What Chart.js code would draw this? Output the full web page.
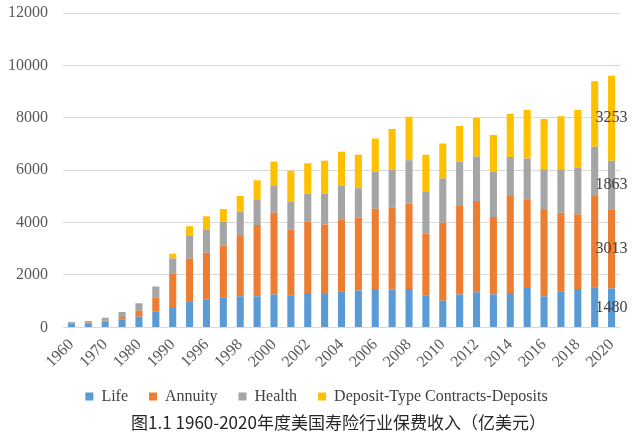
<!DOCTYPE html>
<html>
<head>
<meta charset="utf-8">
<script src="https://cdn.jsdelivr.net/npm/chart.js@4/dist/chart.umd.min.js"></script>
<style>
  html, body { margin: 0; padding: 0; background: #ffffff; }
  #wrap { width: 640px; height: 446px; position: relative; }
</style>
</head>
<body>
<div id="wrap"><canvas id="c" width="640" height="446"></canvas></div>
<script>
const years = ['1960','1965','1970','1975','1980','1985','1990','1995',
  '1996','1997','1998','1999','2000','2001','2002','2003','2004','2005','2006','2007','2008',
  '2009','2010','2011','2012','2013','2014','2015','2016','2017','2018','2019','2020'];
const life = [130,161,217,293,408,601,739,996,
  1059,1149,1187,1187,1251,1225,1315,1277,1379,1404,1468,1442,1468,
  1225,1021,1251,1340,1251,1310,1506,1187,1379,1468,1532,1480];
const annuity = [15,23,37,102,224,539,1318,1621,
  1788,1979,2298,2720,3128,2515,2719,2655,2744,2783,3064,3128,3256,
  2349,2975,3383,3486,2962,3707,3384,3294,3000,2847,3485,3013];
const health = [60,63,114,191,294,418,573,868,
  893,906,932,957,1021,1048,1072,1174,1277,1124,1405,1443,1660,
  1596,1685,1686,1698,1724,1488,1557,1558,1660,1788,1877,1863];
const deposits = [0,0,0,0,0,0,178,375,
  498,485,600,754,932,1187,1162,1252,1303,1277,1276,1558,1659,
  1418,1341,1366,1469,1404,1653,1851,1916,2017,2195,2503,3253];
const seriesNames = ['Life','Annuity','Health','Deposit-Type Contracts-Deposits'];
const yTicks = [0,2000,4000,6000,8000,10000,12000];
const titleText = '图1.1 1960-2020年度美国寿险行业保费收入（亿美元）';

const serif = '"Liberation Serif", "Times New Roman", serif';

const lastLabelPlugin = {
  id: 'lastLabels',
  afterDatasetsDraw(chart) {
    const ctx = chart.ctx;
    ctx.save();
    ctx.font = '16px ' + serif;
    ctx.fillStyle = '#404040';
    ctx.textAlign = 'center';
    ctx.textBaseline = 'middle';
    const idx = years.length - 1;
    chart.data.datasets.forEach((ds, di) => {
      const meta = chart.getDatasetMeta(di);
      const el = meta.data[idx];
      if (!el) return;
      const p = el.getProps(['x','y','base'], true);
      const cy = (p.y + p.base) / 2;
      ctx.fillText(String(ds.data[idx]), p.x, cy);
    });
    ctx.restore();
  }
};

const shiftBoxesPlugin = {
  id: 'shiftBoxes',
  afterLayout(chart) {
    if (chart.legend) { chart.legend.left += 10; chart.legend.right += 10; }
    if (chart.titleBlock) { chart.titleBlock.left += 32; chart.titleBlock.right += 32; }
  }
};

new Chart(document.getElementById('c'), {
  type: 'bar',
  data: {
    labels: years,
    datasets: [
      { label: seriesNames[0], data: life, backgroundColor: '#5B9BD5' },
      { label: seriesNames[1], data: annuity, backgroundColor: '#ED7D31' },
      { label: seriesNames[2], data: health, backgroundColor: '#A5A5A5' },
      { label: seriesNames[3], data: deposits, backgroundColor: '#FFC000' }
    ]
  },
  options: {
    responsive: false,
    animation: false,
    layout: { padding: { left: -7, right: 20, top: 0, bottom: 2 } },
    datasets: { bar: { categoryPercentage: 1, barPercentage: 0.42 } },
    scales: {
      x: {
        stacked: true,
        grid: { display: false },
        border: { display: false },
        afterFit: (axis) => { axis.paddingLeft = 0; axis.paddingRight = 0; axis.height = axis.height - 4; },
        ticks: {
          autoSkip: false,
          minRotation: 45, maxRotation: 45,
          color: '#595959',
          font: { family: serif, size: 16 },
          padding: 0,
          callback: (v, i) => (i % 2 === 0 ? years[i] : '')
        }
      },
      y: {
        stacked: true,
        min: 0, max: 12000,
        afterBuildTicks: (axis) => { axis.ticks = yTicks.map(v => ({ value: v })); },
        afterFit: (axis) => { axis.paddingTop = 13; axis.paddingBottom = 10; },
        grid: { color: '#d9d9d9', drawTicks: false },
        border: { display: false },
        ticks: {
          color: '#595959',
          font: { family: serif, size: 16 },
          padding: 15,
          callback: (v) => String(v)
        }
      }
    },
    plugins: {
      legend: {
        position: 'bottom',
        labels: {
          boxWidth: 8, boxHeight: 8,
          padding: 21,
          color: '#404040',
          font: { family: serif, size: 16 }
        }
      },
      title: {
        display: true,
        position: 'bottom',
        text: titleText,
        color: '#262626',
        font: { family: '"Noto Sans CJK SC", sans-serif', size: 17, weight: 'normal' },
        padding: { top: -2, bottom: 11 }
      },
      tooltip: { enabled: false }
    }
  },
  plugins: [lastLabelPlugin, shiftBoxesPlugin]
});
</script>
</body>
</html>
